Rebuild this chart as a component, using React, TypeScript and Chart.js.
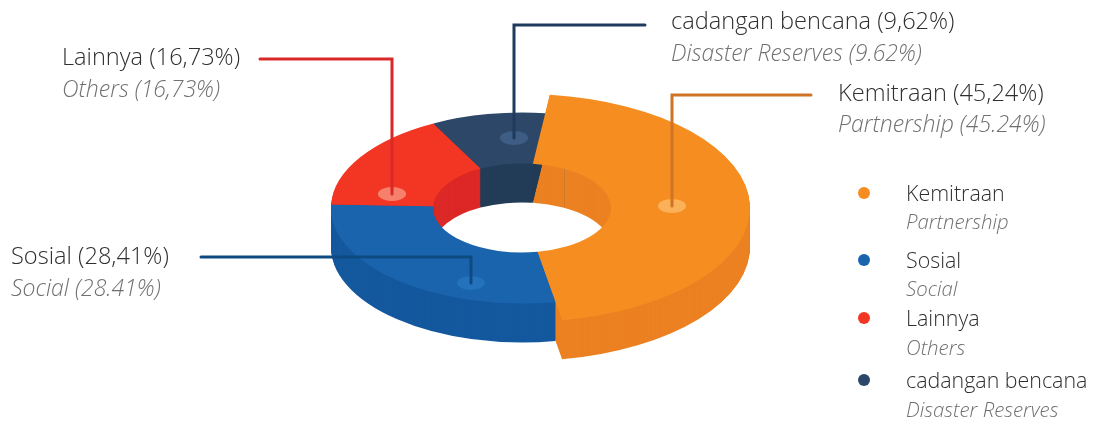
import React, { useEffect, useRef } from "react";
import { Chart, registerables } from "chart.js";

Chart.register(...registerables);

const categories = ["Kemitraan", "Sosial", "Lainnya", "cadangan bencana"];
const categoriesEn = ["Partnership", "Social", "Others", "Disaster Reserves"];
const values = [45.24, 28.41, 16.73, 9.62];
const calloutMain = ["Kemitraan (45,24%)", "Sosial (28,41%)", "Lainnya (16,73%)", "cadangan bencana (9,62%)"];
const calloutEn = ["Partnership (45.24%)", "Social (28.41%)", "Others (16,73%)", "Disaster Reserves (9.62%)"];

const topColors = ["#f68d20", "#1a64ae", "#f23623", "#2d4768"];
const wallColors = ["#ec8122", "#14589e", "#dc2826", "#233c57"];
const spotColors = ["#fbb158", "#2472bb", "#f6806c", "#3e5d85"];
const leaderColors = ["#cf7427", "#0d4a80", "#d9282a", "#1f3a5f"];

const CX = 522, CY = 208, RING_R = 191, HOLE_R = 89, BIG_R = 228, SQUASH = 0.5, DEPTH = 39;
const calloutPos = [[838, 101, 132], [11, 264, 296], [62, 65, 97], [671, 29, 61]];
const legendPos = [[193, 201, 229], [260, 268, 296], [318, 326, 355], [380, 388, 417]];
const leaders = [
  [[811, 95], [672, 95], [672, 206]],
  [[201, 257], [471, 257], [471, 283]],
  [[260, 59], [392, 59], [392, 194]],
  [[645, 25], [514, 25], [514, 138]],
];
const spots = [[672, 206], [471, 283], [392, 194], [514, 138]];

const FONT_CALLOUT = '300 23.6px "Open Sans"';
const FONT_CALLOUT_SUB = 'italic 300 23px "Open Sans"';
const FONT_LEGEND = '300 21.4px "Open Sans"';
const FONT_LEGEND_SUB = 'italic 300 20.4px "Open Sans"';
const TEXT_MAIN = "#2f2f2f";
const TEXT_SUB = "#707070";

const ring3d = {
  id: "ring3d",
  beforeDatasetsDraw(chart: any) {
    const ctx = chart.ctx;
    const arcs = chart.getDatasetMeta(0).data;
    const R = arcs[1].outerRadius;
    const k = RING_R / R;
    arcs[0].outerRadius = (R * BIG_R) / RING_R;

    const place = (dy: number) => {
      ctx.setTransform(k, 0, 0, k * SQUASH, CX - arcs[0].x * k, CY + dy - arcs[0].y * k * SQUASH);
    };
    const drawArc = (arc: any, color: string) => {
      const saved = arc.options.backgroundColor;
      arc.options.backgroundColor = color;
      arc.draw(ctx);
      arc.options.backgroundColor = saved;
    };

    ctx.save();
    // The big slice's wall sits behind everything else.
    for (let dy = DEPTH; dy >= 1; dy--) {
      place(dy);
      drawArc(arcs[0], wallColors[0]);
    }
    for (let dy = DEPTH; dy >= 1; dy--) {
      place(dy);
      for (let i = 1; i < arcs.length; i++) drawArc(arcs[i], wallColors[i]);
    }
    place(0);
    for (let i = 1; i < arcs.length; i++) drawArc(arcs[i], topColors[i]);
    drawArc(arcs[0], topColors[0]);
    ctx.restore();
    return false;
  },
  afterDraw(chart: any) {
    const ctx = chart.ctx;
    ctx.save();
    ctx.textBaseline = "alphabetic";
    ctx.textAlign = "left";

    // seam on the big slice's inner wall
    ctx.strokeStyle = "#cf7a2c";
    ctx.lineWidth = 1;
    ctx.beginPath();
    ctx.moveTo(564.5, 169);
    ctx.lineTo(564.5, 207);
    ctx.stroke();

    spots.forEach(([x, y], i) => {
      ctx.fillStyle = spotColors[i];
      ctx.beginPath();
      ctx.ellipse(x, y, 14, 7, 0, 0, Math.PI * 2);
      ctx.fill();
    });

    leaders.forEach((pts, i) => {
      ctx.strokeStyle = leaderColors[i];
      ctx.lineWidth = 3;
      ctx.lineJoin = "miter";
      ctx.lineCap = "round";
      ctx.beginPath();
      pts.forEach(([x, y], j) => (j ? ctx.lineTo(x, y) : ctx.moveTo(x, y)));
      ctx.stroke();
    });

    calloutMain.forEach((t, i) => {
      const [x, y1, y2] = calloutPos[i];
      ctx.font = FONT_CALLOUT;
      ctx.fillStyle = TEXT_MAIN;
      ctx.fillText(t, x, y1);
      ctx.font = FONT_CALLOUT_SUB;
      ctx.fillStyle = TEXT_SUB;
      ctx.fillText(calloutEn[i], x, y2);
    });

    categories.forEach((t, i) => {
      const [yd, y1, y2] = legendPos[i];
      ctx.fillStyle = topColors[i];
      ctx.beginPath();
      ctx.arc(864, yd, 6, 0, Math.PI * 2);
      ctx.fill();
      ctx.font = FONT_LEGEND;
      ctx.fillStyle = TEXT_MAIN;
      ctx.fillText(t, 906, y1);
      ctx.font = FONT_LEGEND_SUB;
      ctx.fillStyle = TEXT_SUB;
      ctx.fillText(categoriesEn[i], 906, y2);
    });
    ctx.restore();
  },
};

export default function App() {
  const ref = useRef<HTMLCanvasElement>(null);
  useEffect(() => {
    document.body.style.margin = "0";
    document.body.style.background = "#ffffff";
    const chart = new Chart(ref.current!, {
      type: "doughnut",
      data: {
        labels: categories,
        datasets: [{ data: values, backgroundColor: topColors, borderWidth: 0 }],
      },
      options: {
        responsive: false,
        animation: false,
        rotation: 7,
        cutout: `${(HOLE_R / RING_R) * 100}%`,
        layout: { padding: 0 },
        plugins: { legend: { display: false }, tooltip: { enabled: false } },
      },
      plugins: [ring3d],
    } as any);
    return () => chart.destroy();
  }, []);
  return <canvas ref={ref} width={1093} height={421} style={{ display: "block" }} />;
}
